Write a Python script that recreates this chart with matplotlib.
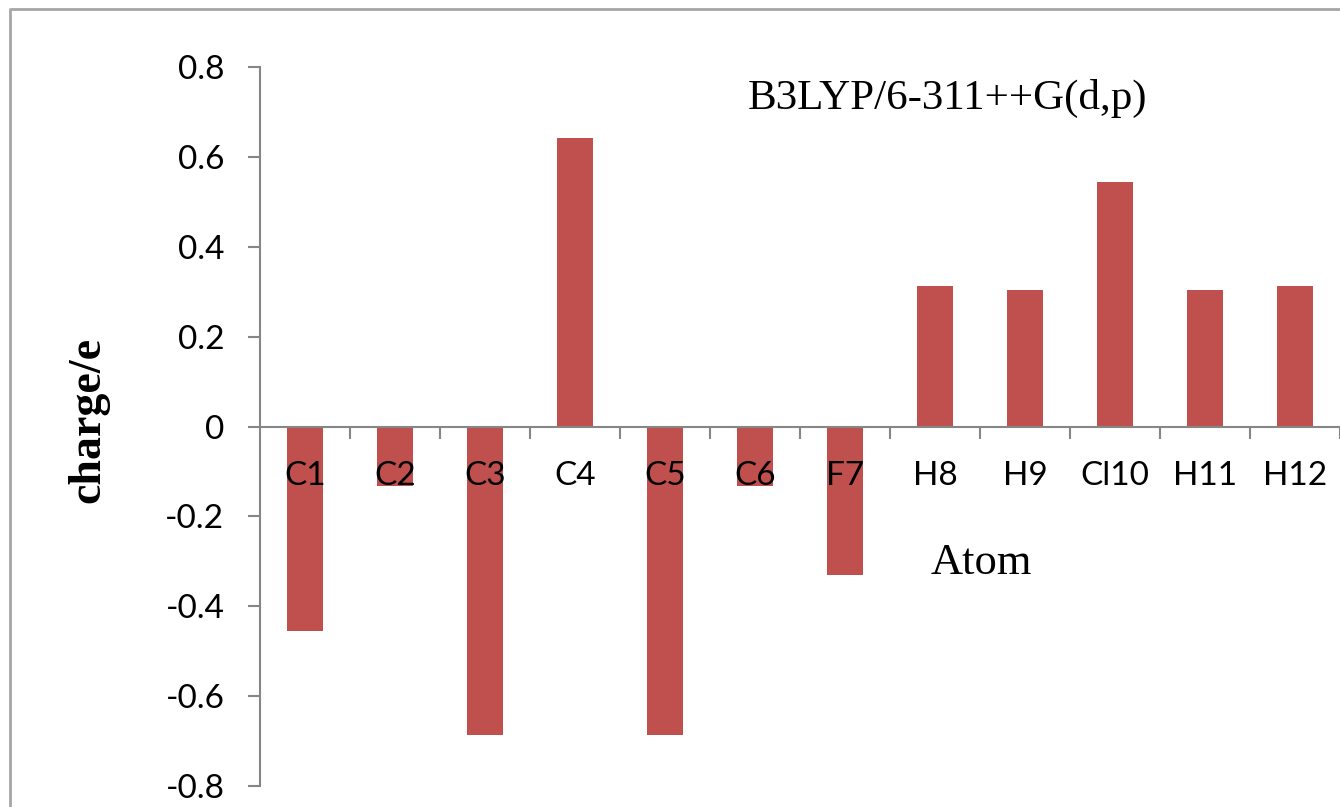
import numpy as np
import matplotlib
matplotlib.use("Agg")
from matplotlib import pyplot as plt
from matplotlib.lines import Line2D

# data
atoms = ['C1', 'C2', 'C3', 'C4', 'C5', 'C6', 'F7', 'H8', 'H9', 'Cl10', 'H11', 'H12']
charges = [-0.456, -0.133, -0.687, 0.642, -0.687, -0.133, -0.331, 0.313, 0.304, 0.544, 0.304, 0.313]
y_ticks = [-0.8, -0.6, -0.4, -0.2, 0, 0.2, 0.4, 0.6, 0.8]
y_tick_labels = ['-0.8', '-0.6', '-0.4', '-0.2', '0', '0.2', '0.4', '0.6', '0.8']

W, H = 1340, 807
fig = plt.figure(figsize=(W / 100, H / 100), dpi=100)
ax = fig.add_axes([260 / W, (H - 786) / H, 1 - 260 / W, (786 - 67) / H])

x = np.arange(len(atoms))
ax.bar(x, charges, width=0.4, color='#C0504D', zorder=1)

ax.set_xlim(-0.5, len(atoms) - 0.5)
ax.set_ylim(-0.8, 0.8)

grey = '#868686'
for s in ['top', 'right']:
    ax.spines[s].set_visible(False)
ax.spines['bottom'].set_position(('data', 0))
ax.spines['bottom'].set_color(grey)
ax.spines['left'].set_color(grey)
ax.spines['bottom'].set_linewidth(1.5)
ax.spines['left'].set_linewidth(1.5)

ax.set_yticks(y_ticks)
ax.set_yticklabels(y_tick_labels, fontsize=24, fontfamily='Lato')
ax.tick_params(axis='y', direction='out', length=8.6, width=1.5, color=grey, pad=17)

ax.set_xticks(x)
ax.set_xticklabels(atoms, fontsize=24, fontfamily='Lato')
ax.tick_params(axis='x', which='major', length=0, pad=25)
ax.set_xticks(np.arange(len(atoms)) + 0.5, minor=True)
ax.tick_params(axis='x', which='minor', direction='out', length=8.6, width=1.5, color=grey)

fig.text(748 / W, 1 - 98 / H, 'B3LYP/6-311++G(d,p)', fontsize=31, fontfamily='Liberation Serif',
         ha='left', va='center')
fig.text(981 / W, 1 - 563 / H, 'Atom', fontsize=32, fontfamily='Liberation Serif',
         ha='center', va='center')
fig.text(88 / W, 1 - 420 / H, 'charge/e', fontsize=33, fontweight='bold', fontfamily='Liberation Serif',
         rotation=90, ha='center', va='center')

# chart area frame
fig.add_artist(Line2D([9.5 / W, 9.5 / W, 1.0], [0.0, 1 - 8.5 / H, 1 - 8.5 / H],
                      transform=fig.transFigure, color='#A6A6A6', linewidth=2))

fig.savefig('out.png', dpi=100)
